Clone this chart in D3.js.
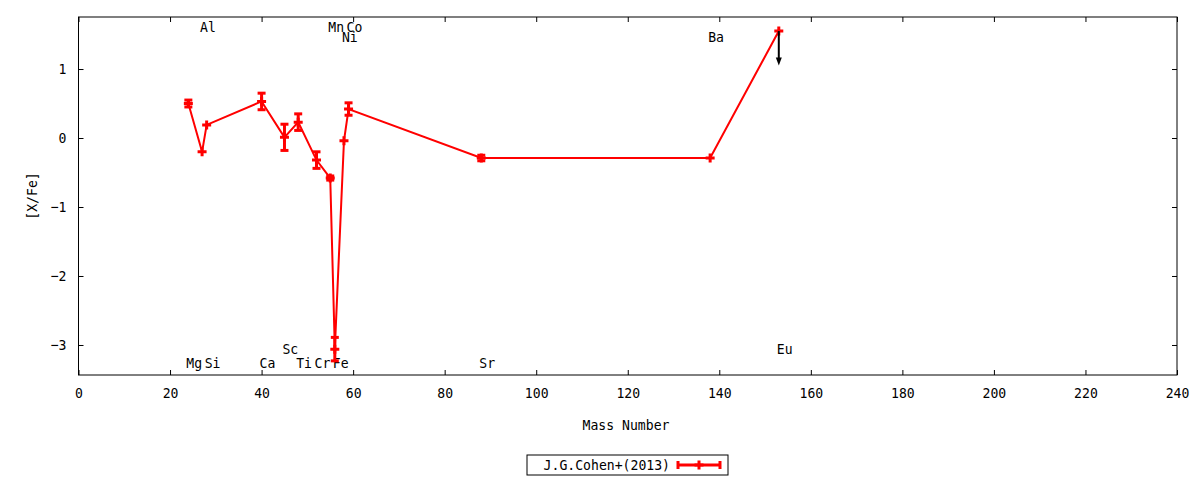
<!DOCTYPE html>
<html>
<head>
<meta charset="utf-8">
<script src="https://cdn.jsdelivr.net/npm/d3@7"></script>
<style>
  body { margin: 0; background: #fff; }
  text { font-family: "DejaVu Sans Mono", monospace; font-size: 14.5px; fill: #000; }
</style>
</head>
<body>
<svg id="chart"></svg>
<script>
// element data
var elements = ["Mg","Al","Si","Ca","Sc","Ti","Cr","Mn","Fe","Ni","Co","Sr","Ba","Eu"];
var massNumber = [24, 27, 28, 40, 45, 48, 52, 55, 56, 58, 59, 88, 138, 153];
var xfe = [0.50, -0.20, 0.19, 0.53, 0.01, 0.23, -0.32, -0.58, -3.06, -0.04, 0.42, -0.29, -0.29, 1.55];
var xfeErr = [0.05, 0, 0, 0.12, 0.19, 0.12, 0.12, 0.03, 0.17, 0, 0.09, 0.04, 0, 0];
// where each element name is written (y in data units)
var labelY = [-3.26, 1.61, -3.26, -3.26, -3.06, -3.26, -3.26, 1.61, -3.26, 1.46, 1.61, -3.26, 1.46, -3.06];
// upper limits: element index and arrow length
var upperLimits = [{i: 13, len: 0.5}];
var xTicks = [0, 20, 40, 60, 80, 100, 120, 140, 160, 180, 200, 220, 240];
var yTicks = [-3, -2, -1, 0, 1];
var legendLabel = "J.G.Cohen+(2013)";

var width = 1200,
  height = 480;
var pL = 78.5, pR = 1177, pT = 17, pB = 375;
var red = "#ff0000";

var svg = d3.select("#chart").attr("width", width).attr("height", height);

var x = d3.scaleLinear().domain([0, 240]).range([pL, pR]);
var y = d3.scaleLinear().domain([-3.435, 1.754]).range([pB, pT]);

// axes, ticks pointing inward on all sides
svg.append("g")
  .attr("transform", "translate(0," + pB + ")")
  .call(d3.axisBottom(x).tickValues(xTicks).tickSize(-5).tickPadding(13).tickFormat(d3.format("d")));
svg.append("g")
  .attr("transform", "translate(0," + pT + ")")
  .call(d3.axisTop(x).tickValues(xTicks).tickSize(-5).tickFormat(""));
svg.append("g")
  .attr("transform", "translate(" + pL + ",0)")
  .call(d3.axisLeft(y).tickValues(yTicks).tickSize(-5).tickPadding(12).tickFormat(d3.format("d")));
svg.append("g")
  .attr("transform", "translate(" + pR + ",0)")
  .call(d3.axisRight(y).tickValues(yTicks).tickSize(-5).tickFormat(""));

svg.selectAll(".domain").remove();
svg.selectAll(".tick line").attr("stroke", "#000");
svg.selectAll(".tick text").style("font-family", "DejaVu Sans Mono").style("font-size", "14.5px");

svg.append("rect")
  .attr("x", pL).attr("y", pT)
  .attr("width", pR - pL).attr("height", pB - pT)
  .attr("fill", "none").attr("stroke", "#000").attr("stroke-width", 1);

// axis titles
svg.append("text")
  .attr("x", 626).attr("y", 425)
  .attr("text-anchor", "middle").attr("dy", "0.35em")
  .text("Mass Number");
svg.append("text")
  .attr("transform", "translate(32," + ((pT + pB) / 2) + ") rotate(-90)")
  .attr("text-anchor", "middle").attr("dy", "0.35em")
  .text("[X/Fe]");

// element names
svg.selectAll(".elabel").data(elements)
  .enter().append("text")
  .attr("class", "elabel")
  .attr("x", function(d, i) { return x(massNumber[i]) - 2; })
  .attr("y", function(d, i) { return y(labelY[i]); })
  .attr("dy", "0.35em")
  .text(function(d) { return d; });

var pts = elements.map(function(d, i) {
  return {name: d, m: massNumber[i], v: xfe[i], e: xfeErr[i]};
});

var line = d3.line()
  .x(function(d) { return x(d.m); })
  .y(function(d) { return y(d.v); });

svg.append("path")
  .datum(pts)
  .attr("d", line)
  .attr("fill", "none")
  .attr("stroke", red)
  .attr("stroke-width", 2);

// error bars
var bars = svg.selectAll(".ebar").data(pts.filter(function(d) { return d.e > 0; }))
  .enter().append("g").attr("class", "ebar")
  .attr("stroke", red).attr("stroke-width", 3);
bars.append("line")
  .attr("x1", function(d) { return x(d.m); })
  .attr("x2", function(d) { return x(d.m); })
  .attr("y1", function(d) { return y(d.v - d.e); })
  .attr("y2", function(d) { return y(d.v + d.e); });
[-1, 1].forEach(function(s) {
  bars.append("line")
    .attr("x1", function(d) { return x(d.m) - 4; })
    .attr("x2", function(d) { return x(d.m) + 4; })
    .attr("y1", function(d) { return y(d.v + s * d.e); })
    .attr("y2", function(d) { return y(d.v + s * d.e); });
});

// plus markers
function plus(g, cx, cy) {
  g.append("path")
    .attr("d", "M" + (cx - 4.5) + "," + cy + "H" + (cx + 4.5) + "M" + cx + "," + (cy - 4.5) + "V" + (cy + 4.5))
    .attr("stroke", red).attr("stroke-width", 3).attr("fill", "none");
}
pts.forEach(function(d) { plus(svg, x(d.m), y(d.v)); });

// upper limit arrows
upperLimits.forEach(function(u) {
  var d = pts[u.i];
  var cx = x(d.m), y0 = y(d.v), y1 = y(d.v - u.len);
  svg.append("line")
    .attr("x1", cx).attr("x2", cx).attr("y1", y0).attr("y2", y1 - 6)
    .attr("stroke", "#000").attr("stroke-width", 2);
  svg.append("path")
    .attr("d", "M" + (cx - 3) + "," + (y1 - 8) + "L" + (cx + 3) + "," + (y1 - 8) + "L" + cx + "," + y1 + "Z")
    .attr("fill", "#000");
});

// legend
var lg = svg.append("g");
lg.append("rect")
  .attr("x", 527).attr("y", 455).attr("width", 201).attr("height", 20)
  .attr("fill", "none").attr("stroke", "#000").attr("stroke-width", 1);
lg.append("text")
  .attr("x", 670).attr("y", 465).attr("dy", "0.35em")
  .attr("text-anchor", "end")
  .text(legendLabel);
lg.append("line")
  .attr("x1", 678).attr("x2", 720).attr("y1", 465).attr("y2", 465)
  .attr("stroke", red).attr("stroke-width", 3);
[678, 720].forEach(function(cx) {
  lg.append("line")
    .attr("x1", cx).attr("x2", cx).attr("y1", 461).attr("y2", 469)
    .attr("stroke", red).attr("stroke-width", 3);
});
plus(lg, 699, 465);

// narrow the glyphs like the original terminal font
svg.selectAll("text").each(function() {
  var t = d3.select(this), n = t.text().length;
  if (n) t.attr("textLength", n * 7.9).attr("lengthAdjust", "spacingAndGlyphs");
});
</script>
</body>
</html>
